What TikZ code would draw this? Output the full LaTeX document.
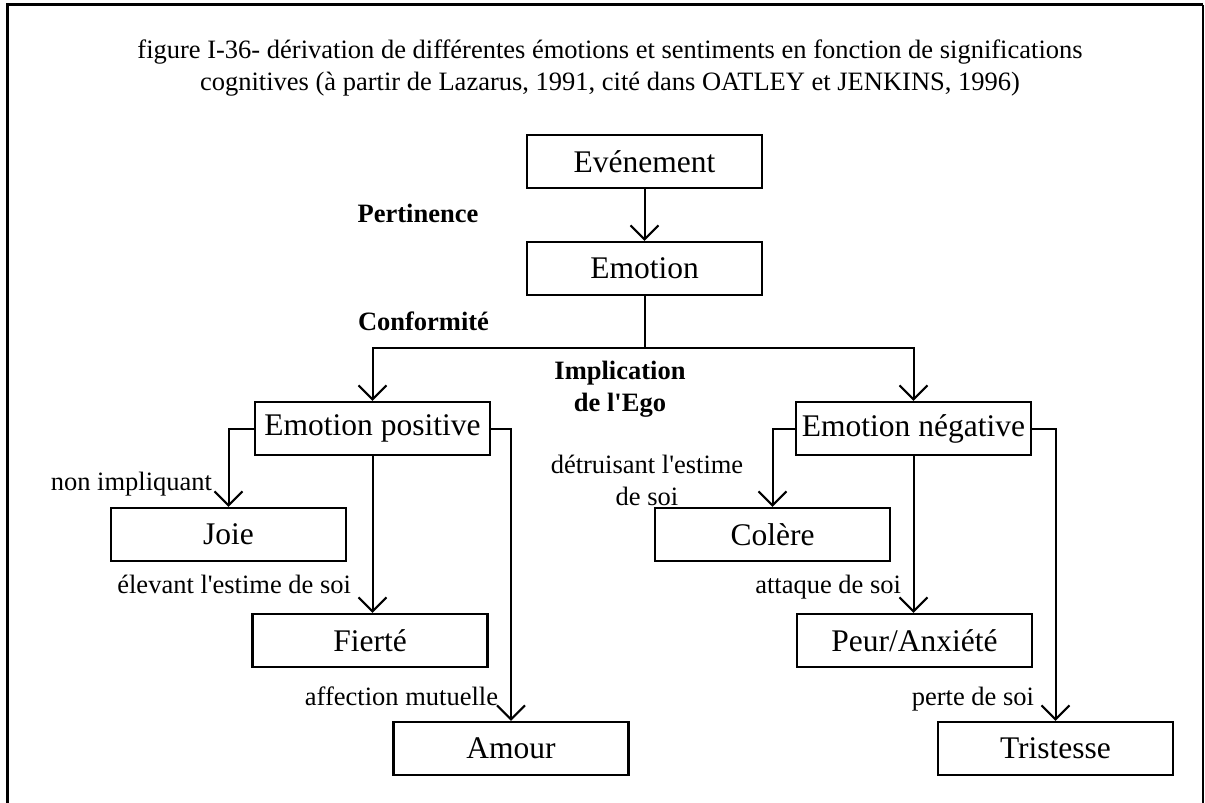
\documentclass[tikz,border=0pt]{standalone}
\usepackage{fontspec}
\setmainfont{Liberation Serif}[Ligatures=TeXOff]
\usetikzlibrary{arrows.meta}
\tikzstyle{box} = [rectangle, draw, line width=1.2pt, minimum width=117.5pt, minimum height=26.5pt, inner sep=0pt, font=\fontsize{15.75}{19}\selectfont]
\tikzstyle{lab} = [inner sep=0pt, font=\fontsize{13.25}{16}\selectfont]
\tikzstyle{crit} = [lab, font=\fontsize{13.25}{16}\selectfont\bfseries, align=center]

\begin{document}
\begin{tikzpicture}[x=0.5pt,y=-0.5pt,->,>={Straight Barb[length=7pt,width=14pt]},line width=1pt]
  \useasboundingbox (0,0) rectangle (1205,803);
  % frame, open at the bottom
  \draw[-,line width=1.5pt] (7,803) -- (7,4.5) -- (1203,4.5);
  \draw[-,line width=0.6pt] (1203,4.5) -- (1203,803);

  \node[lab, align=center] (caption) at (610,68) {figure I-36- dérivation de différentes émotions et sentiments en fonction de significations\\cognitives (à partir de Lazarus, 1991, cité dans OATLEY et JENKINS, 1996)};

  \node[box] (Evenement) at (644.5,161.5) {Evénement};
  \node[box] (Emotion) at (644.5,268.5) {Emotion};
  \node[box] (Pos) at (372.5,428.5) {Emotion positive};
  \node[box] (Neg) at (913.5,428.5) {Emotion négative};
  \node[box] (Joie) at (228.5,534.5) {Joie};
  \node[box] (Fierte) at (370,640.5) {Fierté};
  \node[box] (Amour) at (511,748.5) {Amour};
  \node[box] (Colere) at (772.5,534.5) {Colère};
  \node[box] (Peur) at (914.5,640.5) {Peur/Anxiété};
  \node[box] (Tristesse) at (1055.5,748.5) {Tristesse};

  \node[crit] (pert) at (418,213) {Pertinence};
  \node[crit] (conf) at (423.5,321) {Conformité};
  \node[crit] (ego) at (620,389) {Implication\\de l'Ego};

  \node[lab, anchor=base east] (l_joie) at (213,490) {non impliquant};
  \node[lab, anchor=base east] (l_fierte) at (352,593) {élevant l'estime de soi};
  \node[lab, anchor=base east] (l_amour) at (499,705) {affection mutuelle};
  \node[lab, align=center] (l_colere) at (647,480) {détruisant l'estime\\de soi};
  \node[lab, anchor=base east] (l_peur) at (902,593) {attaque de soi};
  \node[lab, anchor=base east] (l_triste) at (1035,705) {perte de soi};

  \draw (Evenement) -- (Emotion);
  \draw (Emotion.south) -- ++(0,52) -| (Pos.north);
  \draw (Emotion.south) -- ++(0,52) -| (Neg.north);

  \draw (Pos.west) -| (Joie.north);
  \draw (Pos.south) -- (Pos.south |- Fierte.north);
  \draw (Pos.east) -| (Amour.north);

  \draw (Neg.west) -| (Colere.north);
  \draw (Neg.south) -- (Neg.south |- Peur.north);
  \draw (Neg.east) -| (Tristesse.north);
\end{tikzpicture}
\end{document}
